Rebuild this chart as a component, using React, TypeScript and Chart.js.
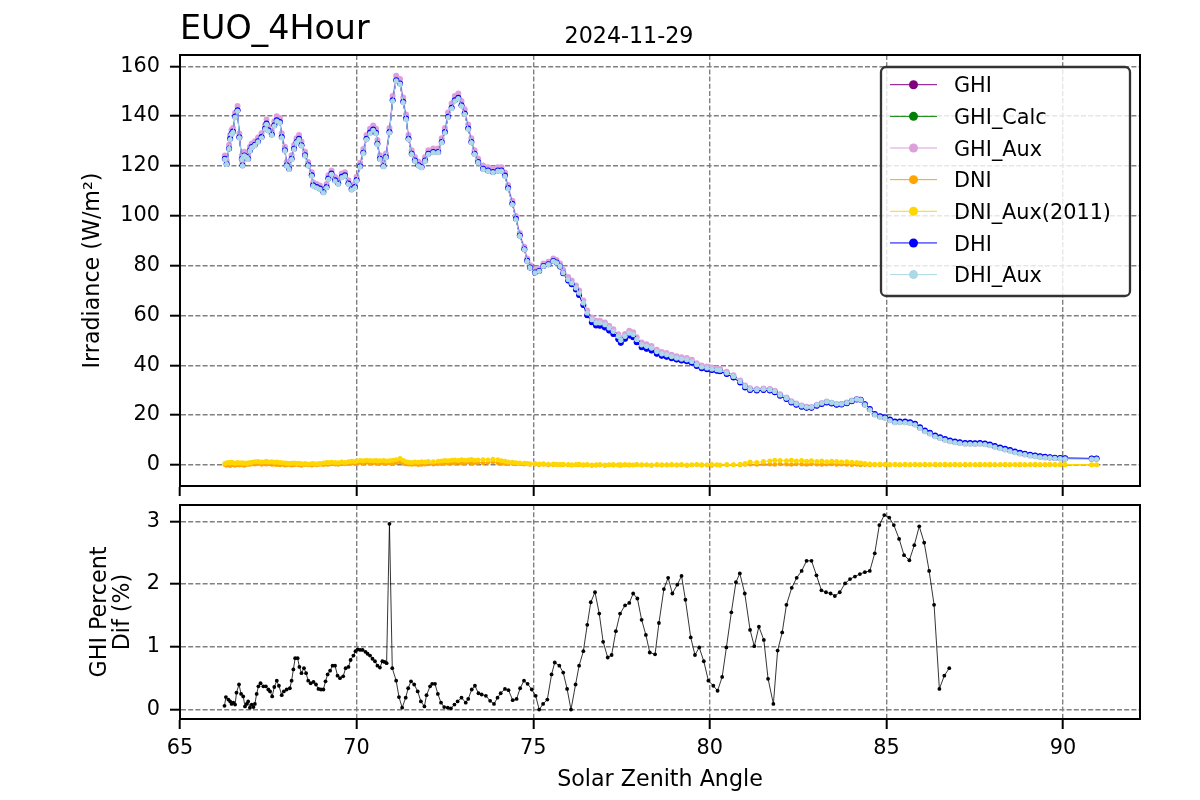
import { useEffect, useRef } from "react";
import { Chart, registerables } from "chart.js";

Chart.register(...registerables);

const FONT = "DejaVu Sans";

// ---------------- DATA ----------------
// Solar zenith angle for the irradiance series (top panel)
const zenith = [
  66.27, 66.32, 66.39, 66.42, 66.46, 66.50, 66.56, 66.63, 66.68, 66.75,
  66.77, 66.82, 66.88, 66.93, 66.98, 67.03, 67.12, 67.21, 67.31, 67.41,
  67.45, 67.50, 67.60, 67.67, 67.74, 67.83, 67.88, 67.97, 68.02, 68.09,
  68.16, 68.23, 68.30, 68.37, 68.44, 68.54, 68.63, 68.73, 68.77, 68.87,
  68.96, 69.06, 69.15, 69.20, 69.29, 69.39, 69.48, 69.58, 69.67, 69.77,
  69.86, 69.95, 70.00, 70.10, 70.19, 70.28, 70.38, 70.47, 70.55, 70.59,
  70.66, 70.76, 70.83, 70.93, 71.02, 71.12, 71.23, 71.32, 71.40, 71.47,
  71.56, 71.65, 71.75, 71.84, 71.94, 72.03, 72.17, 72.31, 72.41, 72.50,
  72.59, 72.69, 72.78, 72.88, 72.97, 73.06, 73.16, 73.25, 73.34, 73.44,
  73.58, 73.72, 73.86, 74.00, 74.10, 74.20, 74.29, 74.41, 74.51, 74.62,
  74.75, 74.83, 74.91, 75.05, 75.17, 75.29, 75.43, 75.57, 75.66, 75.76,
  75.85, 75.99, 76.09, 76.21, 76.30, 76.42, 76.53, 76.66, 76.78, 76.89,
  77.03, 77.15, 77.27, 77.41, 77.48, 77.60, 77.72, 77.83, 77.93, 78.07,
  78.21, 78.35, 78.50, 78.64, 78.78, 78.92, 79.06, 79.20, 79.35, 79.49,
  79.63, 79.77, 79.92, 80.06, 80.20, 80.29, 80.48, 80.67, 80.86, 81.00,
  81.14, 81.33, 81.52, 81.70, 81.84, 81.99, 82.17, 82.31, 82.45, 82.60,
  82.74, 82.88, 83.03, 83.17, 83.31, 83.45, 83.59, 83.73, 83.88, 84.02,
  84.16, 84.27, 84.39, 84.53, 84.67, 84.82, 84.96, 85.10, 85.24, 85.38,
  85.53, 85.67, 85.81, 85.95, 86.09, 86.23, 86.38, 86.52, 86.66, 86.80,
  86.94, 87.08, 87.23, 87.37, 87.51, 87.65, 87.79, 87.93, 88.07, 88.22,
  88.36, 88.50, 88.64, 88.78, 88.92, 89.07, 89.21, 89.35, 89.49, 89.63,
  89.77, 89.92, 90.06, 90.81, 90.95,
];

const ghi = [
  122.9, 120.8, 127.0, 130.9, 132.9, 133.8, 139.8, 142.3, 131.5, 122.8,
  120.3, 124.2, 123.7, 122.9, 126.2, 127.6, 128.5, 129.9, 131.6, 135.0,
  137.0, 134.3, 132.6, 136.3, 138.3, 137.6, 131.6, 126.3, 120.3, 118.9,
  122.9, 126.9, 129.6, 130.9, 128.3, 124.3, 120.3, 116.2, 112.2, 111.5,
  110.9, 109.5, 111.5, 114.9, 116.9, 114.2, 112.9, 115.6, 116.2, 112.9,
  110.6, 111.5, 114.3, 119.9, 125.3, 130.9, 133.4, 134.6, 133.3, 128.9,
  122.9, 120.0, 123.6, 133.6, 146.3, 154.4, 153.1, 145.7, 139.0, 130.9,
  124.9, 122.2, 120.3, 119.6, 122.2, 124.9, 125.6, 125.6, 129.6, 133.6,
  139.7, 143.3, 146.3, 147.3, 144.3, 141.0, 135.0, 129.6, 124.9, 121.6,
  118.9, 118.2, 117.6, 118.2, 118.2, 116.1, 111.1, 104.8, 98.8, 92.1,
  86.6, 81.9, 79.2, 77.2, 77.8, 79.8, 80.5, 81.8, 81.2, 79.6,
  76.9, 74.0, 72.5, 70.4, 68.2, 64.2, 60.1, 57.3, 56.0, 55.9,
  55.2, 53.9, 52.5, 50.4, 49.0, 50.6, 51.9, 51.2, 49.2, 47.2,
  46.6, 45.9, 44.6, 43.8, 43.4, 42.8, 42.3, 41.9, 41.6, 41.0,
  39.7, 38.8, 38.4, 38.1, 37.8, 37.6, 36.5, 35.1, 33.1, 31.1,
  30.1, 29.9, 30.1, 29.9, 29.2, 27.8, 26.5, 25.1, 24.2, 23.4,
  22.9, 22.9, 23.8, 24.5, 25.1, 24.7, 24.2, 24.3, 24.8, 25.6,
  26.3, 26.2, 24.4, 22.4, 20.4, 19.5, 19.1, 18.2, 17.4, 17.4,
  17.4, 17.1, 16.5, 15.1, 13.8, 12.9, 11.8, 11.1, 10.4, 9.8,
  9.4, 9.1, 8.8, 8.8, 8.7, 8.8, 8.6, 8.2, 7.6, 7.0,
  6.5, 6.0, 5.4, 4.9, 4.5, 4.1, 3.8, 3.5, 3.3, 3.1,
  2.9, 2.8, 2.7, 2.6, 2.6,
];

const ghiCalc = [
  122.9, 120.8, 127.0, 130.9, 132.9, 133.8, 139.8, 142.3, 131.5, 122.8,
  120.3, 124.2, 123.7, 122.9, 126.2, 127.6, 128.5, 129.9, 131.6, 135.0,
  137.0, 134.3, 132.6, 136.3, 138.3, 137.6, 131.6, 126.3, 120.3, 118.9,
  122.9, 126.9, 129.6, 130.9, 128.3, 124.3, 120.3, 116.2, 112.2, 111.5,
  110.9, 109.5, 111.5, 114.9, 116.9, 114.2, 112.9, 115.6, 116.2, 112.9,
  110.6, 111.5, 114.3, 119.9, 125.3, 130.9, 133.4, 134.6, 133.3, 128.9,
  122.9, 120.0, 123.6, 133.6, 146.3, 154.4, 153.1, 145.7, 139.0, 130.9,
  124.9, 122.2, 120.3, 119.6, 122.2, 124.9, 125.6, 125.6, 129.6, 133.6,
  139.7, 143.3, 146.3, 147.3, 144.3, 141.0, 135.0, 129.6, 124.9, 121.6,
  118.9, 118.2, 117.6, 118.2, 118.2, 116.1, 111.1, 104.8, 98.8, 92.1,
  86.6, 81.9, 79.2, 77.2, 77.8, 79.8, 80.5, 81.8, 81.2, 79.6,
  76.9, 74.0, 72.5, 70.4, 68.2, 64.2, 60.1, 57.3, 56.0, 55.9,
  55.2, 53.9, 52.5, 50.4, 49.0, 50.6, 51.9, 51.2, 49.2, 47.2,
  46.6, 45.9, 44.6, 43.8, 43.4, 42.8, 42.3, 41.9, 41.6, 41.0,
  39.7, 38.8, 38.4, 38.1, 37.8, 37.6, 36.5, 35.1, 33.1, 31.1,
  30.1, 29.9, 30.1, 29.9, 29.2, 27.8, 26.5, 25.1, 24.2, 23.4,
  22.9, 22.9, 23.8, 24.5, 25.1, 24.7, 24.2, 24.3, 24.8, 25.6,
  26.3, 26.2, 24.4, 22.4, 20.4, 19.5, 19.1, 18.2, 17.4, 17.4,
  17.4, 17.1, 16.5, 15.1, 13.8, 12.9, 11.8, 11.1, 10.4, 9.8,
  9.4, 9.1, 8.8, 8.8, 8.7, 8.8, 8.6, 8.2, 7.6, 7.0,
  6.5, 6.0, 5.4, 4.9, 4.5, 4.1, 3.8, 3.5, 3.3, 3.1,
  2.9, 2.8, 2.7, 2.6, 2.6,
];

const ghiAux = [
  124.2, 122.2, 128.5, 132.3, 134.4, 135.2, 141.3, 144.0, 133.0, 124.2,
  121.6, 125.7, 125.1, 124.3, 127.7, 129.0, 129.9, 131.4, 133.1, 136.5,
  138.6, 135.8, 134.1, 137.9, 139.9, 139.2, 133.1, 127.7, 121.6, 120.2,
  124.3, 128.4, 131.1, 132.4, 129.8, 125.7, 121.6, 117.5, 113.4, 112.7,
  112.1, 110.7, 112.7, 116.2, 118.2, 115.5, 114.2, 116.9, 117.5, 114.2,
  111.8, 112.8, 115.6, 121.3, 126.8, 132.4, 134.9, 136.2, 134.9, 130.4,
  124.3, 121.4, 125.0, 135.2, 148.0, 156.2, 154.9, 147.4, 140.6, 132.4,
  126.3, 123.6, 121.7, 121.0, 123.6, 126.3, 127.0, 127.0, 131.1, 135.2,
  141.4, 145.0, 148.0, 149.1, 146.0, 142.7, 136.6, 131.1, 126.3, 123.0,
  120.2, 119.5, 118.9, 119.5, 119.5, 117.4, 112.3, 106.0, 99.9, 93.1,
  87.6, 82.8, 80.2, 78.2, 78.8, 80.8, 81.5, 82.8, 82.2, 80.8,
  78.2, 75.4, 74.0, 72.0, 70.0, 66.0, 62.0, 59.2, 57.9, 57.9,
  57.2, 55.9, 54.4, 52.4, 50.9, 52.5, 53.8, 53.2, 51.2, 49.1,
  48.4, 47.7, 46.2, 45.3, 44.9, 44.2, 43.6, 43.2, 42.9, 42.2,
  40.8, 39.9, 39.5, 39.1, 38.7, 38.5, 37.4, 36.0, 33.9, 31.9,
  30.8, 30.5, 30.7, 30.5, 29.8, 28.4, 27.1, 25.6, 24.7, 23.9,
  23.4, 23.3, 24.2, 24.9, 25.5, 25.0, 24.5, 24.5, 25.1, 25.9,
  26.5, 26.2, 24.2, 22.2, 20.2, 19.3, 18.9, 17.9, 17.1, 17.1,
  17.1, 16.8, 16.2, 14.8, 13.5, 12.6, 11.5, 10.8, 10.1, 9.5,
  9.1, 8.8, 8.5, 8.5, 8.4, 8.5, 8.3, 7.9, 7.3, 6.7,
  6.2, 5.7, 5.1, 4.6, 4.2, 3.8, 3.5, 3.2, 3.0, 2.9,
  2.7, 2.6, 2.5, 2.4, 2.4,
];

const dni = [
  0.1, -0.2, 0.0, -0.3, 0.2, 0.0, -0.2, 0.1, -0.1, 0.2,
  0.0, -0.2, 0.1, 0.3, 0.2, 0.4, 0.3, 0.5, 0.2, 0.4,
  0.3, 0.5, 0.2, 0.3, 0.1, 0.0, 0.2, -0.1, 0.0, 0.1,
  -0.1, 0.0, 0.2, 0.0, -0.2, 0.1, 0.0, -0.1, 0.1, 0.0,
  0.2, 0.1, 0.3, 0.2, 0.4, 0.3, 0.2, 0.5, 0.4, 0.6,
  0.7, 0.6, 0.8, 0.9, 0.7, 1.0, 0.8, 0.9, 0.7, 0.8,
  0.6, 0.9, 0.7, 0.8, 0.5, 0.9, 1.2, 0.6, 0.4, 0.3,
  0.2, 0.3, 0.1, 0.2, 0.3, 0.4, 0.3, 0.5, 0.6, 0.7,
  0.8, 0.9, 0.7, 1.0, 0.8, 0.9, 1.1, 0.8, 0.9, 1.0,
  0.8, 1.0, 1.2, 0.9, 0.7, 0.6, 0.5, 0.6, 0.4, 0.5,
  0.3, 0.4, 0.2, 0.3, 0.1, 0.2, 0.0, 0.1, 0.2, 0.0,
  0.1, 0.0, -0.1, 0.0, 0.1, -0.1, 0.0, -0.2, -0.1, 0.0,
  -0.2, 0.0, -0.1, 0.1, -0.2, 0.0, -0.1, 0.0, 0.1, -0.1,
  0.0, -0.2, 0.0, -0.1, 0.1, 0.0, -0.1, 0.0, -0.2, 0.0,
  0.1, -0.1, 0.0, -0.2, 0.0, -0.1, 0.0, 0.1, 0.0, 0.2,
  0.3, 0.2, 0.4, 0.3, 0.2, 0.4, 0.3, 0.2, 0.4, 0.3,
  0.2, 0.4, 0.3, 0.2, 0.3, 0.4, 0.2, 0.3, 0.2, 0.1,
  0.2, 0.0, 0.1, 0.0, 0.1, 0.0, 0.1, 0.0, 0.1, 0.0,
  0.1, 0.0, 0.1, 0.0, 0.0, 0.1, 0.0, 0.1, 0.0, 0.0,
  0.1, 0.0, 0.0, 0.1, 0.0, 0.0, 0.1, 0.0, 0.0, 0.1,
  0.0, 0.0, 0.1, 0.0, 0.0, 0.1, 0.0, 0.0, 0.0, 0.1,
  0.0, 0.0, 0.0, 0.0, 0.0,
];

const dniAux = [
  0.6, 0.9, 1.0, 0.8, 1.1, 0.9, 0.7, 1.0, 0.8, 0.9,
  0.7, 0.8, 0.6, 0.9, 0.8, 1.1, 1.3, 1.4, 1.2, 1.3,
  1.4, 1.2, 1.3, 1.1, 1.2, 1.0, 0.9, 0.8, 0.7, 0.6,
  0.7, 0.8, 0.6, 0.7, 0.5, 0.6, 0.4, 0.5, 0.6, 0.5,
  0.6, 0.8, 1.0, 0.9, 1.1, 1.0, 0.9, 1.2, 1.0, 1.3,
  1.5, 1.4, 1.6, 1.8, 1.7, 1.9, 1.8, 1.7, 1.8, 1.6,
  1.7, 1.8, 1.6, 1.7, 1.9, 2.1, 2.6, 1.8, 1.3, 1.1,
  1.0, 1.2, 1.1, 1.3, 1.2, 1.4, 1.3, 1.5, 1.6, 1.8,
  1.7, 1.9, 2.0, 1.8, 2.1, 1.9, 2.0, 2.2, 1.9, 2.0,
  2.1, 2.0, 2.3, 2.1, 1.7, 1.5, 1.2, 1.1, 0.9, 0.8,
  0.7, 0.6, 0.5, 0.6, 0.4, 0.5, 0.3, 0.4, 0.3, 0.2,
  0.3, 0.2, 0.1, 0.2, 0.3, 0.1, 0.2, 0.0, 0.1, 0.2,
  0.0, 0.1, 0.2, 0.0, 0.1, 0.2, 0.1, 0.0, 0.2, 0.1,
  0.1, 0.0, 0.2, 0.1, 0.0, 0.2, 0.1, 0.2, 0.0, 0.1,
  0.2, 0.1, 0.0, 0.2, 0.1, 0.0, 0.2, 0.1, 0.3, 0.6,
  1.2, 1.0, 1.4, 1.6, 1.9, 1.8, 1.7, 1.9, 1.6, 1.8,
  1.5, 1.7, 1.4, 1.6, 1.3, 1.5, 1.4, 1.2, 1.3, 1.1,
  1.0, 0.8, 0.6, 0.4, 0.3, 0.4, 0.3, 0.2, 0.3, 0.2,
  0.3, 0.2, 0.3, 0.2, 0.3, 0.2, 0.3, 0.2, 0.3, 0.2,
  0.3, 0.2, 0.3, 0.2, 0.2, 0.3, 0.2, 0.3, 0.2, 0.2,
  0.3, 0.2, 0.2, 0.3, 0.2, 0.2, 0.3, 0.2, 0.2, 0.3,
  0.2, 0.2, 0.2, 0.1, 0.1,
];

const dhi = [
  122.9, 120.8, 127.0, 130.9, 132.9, 133.8, 139.8, 142.3, 131.5, 122.8,
  120.3, 124.2, 123.7, 122.9, 126.2, 127.6, 128.5, 129.9, 131.6, 135.0,
  137.0, 134.3, 132.6, 136.3, 138.3, 137.6, 131.6, 126.3, 120.3, 118.9,
  122.9, 126.9, 129.6, 130.9, 128.3, 124.3, 120.3, 116.2, 112.2, 111.5,
  110.9, 109.5, 111.5, 114.9, 116.9, 114.2, 112.9, 115.6, 116.2, 112.9,
  110.6, 111.5, 114.3, 119.9, 125.3, 130.9, 133.4, 134.6, 133.3, 128.9,
  122.9, 120.0, 123.6, 133.6, 146.3, 154.4, 153.1, 145.7, 139.0, 130.9,
  124.9, 122.2, 120.3, 119.6, 122.2, 124.9, 125.6, 125.6, 129.6, 133.6,
  139.7, 143.3, 146.3, 147.3, 144.3, 141.0, 135.0, 129.6, 124.9, 121.6,
  118.9, 118.2, 117.6, 118.2, 118.2, 116.1, 111.1, 104.8, 98.8, 92.1,
  86.6, 81.9, 79.2, 77.2, 77.8, 79.8, 80.5, 81.8, 81.2, 79.6,
  76.9, 74.0, 72.5, 70.4, 68.2, 64.2, 60.1, 57.3, 56.0, 55.9,
  55.2, 53.9, 52.5, 50.4, 49.0, 50.6, 51.9, 51.2, 49.2, 47.2,
  46.6, 45.9, 44.6, 43.8, 43.4, 42.8, 42.3, 41.9, 41.6, 41.0,
  39.7, 38.8, 38.4, 38.1, 37.8, 37.6, 36.5, 35.1, 33.1, 31.1,
  30.1, 29.9, 30.1, 29.9, 29.2, 27.8, 26.5, 25.1, 24.2, 23.4,
  22.9, 22.9, 23.8, 24.5, 25.1, 24.7, 24.2, 24.3, 24.8, 25.6,
  26.3, 26.2, 24.4, 22.4, 20.4, 19.5, 19.1, 18.2, 17.4, 17.4,
  17.4, 17.1, 16.5, 15.1, 13.8, 12.9, 11.8, 11.1, 10.4, 9.8,
  9.4, 9.1, 8.8, 8.8, 8.7, 8.8, 8.6, 8.2, 7.6, 7.0,
  6.5, 6.0, 5.4, 4.9, 4.5, 4.1, 3.8, 3.5, 3.3, 3.1,
  2.9, 2.8, 2.7, 2.6, 2.6,
];

const dhiAux = [
  122.6, 120.6, 126.9, 130.6, 132.7, 133.5, 139.5, 142.0, 131.3, 122.6,
  120.0, 124.0, 123.4, 122.6, 126.0, 127.3, 128.2, 129.6, 131.3, 134.7,
  136.7, 134.0, 132.3, 136.0, 138.0, 137.3, 131.3, 126.0, 120.0, 118.6,
  122.6, 126.6, 129.3, 130.6, 128.0, 124.0, 120.0, 115.9, 111.9, 111.2,
  110.6, 109.2, 111.2, 114.6, 116.6, 113.9, 112.6, 115.3, 115.9, 112.6,
  110.3, 111.2, 114.0, 119.6, 125.0, 130.6, 133.0, 134.3, 133.0, 128.6,
  122.6, 119.7, 123.3, 133.3, 146.0, 154.1, 152.8, 145.4, 138.7, 130.6,
  124.6, 121.9, 120.0, 119.3, 121.9, 124.6, 125.3, 125.3, 129.3, 133.3,
  139.4, 143.0, 146.0, 147.0, 144.0, 140.7, 134.7, 129.3, 124.6, 121.3,
  118.6, 117.9, 117.3, 117.9, 117.9, 115.8, 110.8, 104.5, 98.5, 91.8,
  86.4, 81.7, 79.1, 77.1, 77.7, 79.7, 80.4, 81.7, 81.1, 79.7,
  77.1, 74.4, 73.0, 71.0, 69.0, 65.0, 61.0, 58.3, 57.0, 57.0,
  56.3, 55.0, 53.6, 51.6, 50.0, 51.6, 52.9, 52.3, 50.3, 48.2,
  47.6, 46.9, 45.5, 44.6, 44.2, 43.5, 42.9, 42.5, 42.2, 41.5,
  40.2, 39.3, 38.9, 38.5, 38.2, 38.0, 36.9, 35.5, 33.5, 31.5,
  30.4, 30.2, 30.4, 30.2, 29.5, 28.1, 26.8, 25.4, 24.5, 23.7,
  23.2, 23.2, 24.1, 24.8, 25.4, 25.0, 24.5, 24.5, 25.0, 25.8,
  26.4, 26.1, 24.1, 22.1, 20.1, 19.2, 18.8, 17.8, 17.0, 17.0,
  17.0, 16.7, 16.1, 14.7, 13.4, 12.5, 11.4, 10.7, 10.0, 9.4,
  9.0, 8.7, 8.4, 8.4, 8.3, 8.4, 8.2, 7.8, 7.2, 6.6,
  6.1, 5.6, 5.0, 4.5, 4.1, 3.7, 3.4, 3.1, 2.9, 2.8,
  2.6, 2.5, 2.4, 2.3, 2.3,
];

// Bottom panel: GHI percent difference
const difZenith = [
  66.26, 66.30, 66.37, 66.42, 66.46, 66.51, 66.56, 66.60, 66.67, 66.73,
  66.79, 66.84, 66.89, 66.93, 66.98, 67.03, 67.08, 67.12, 67.17, 67.22,
  67.28, 67.36, 67.43, 67.50, 67.55, 67.61, 67.67, 67.74, 67.80, 67.88,
  67.94, 68.02, 68.11, 68.16, 68.21, 68.26, 68.33, 68.38, 68.44, 68.51,
  68.57, 68.63, 68.70, 68.78, 68.85, 68.92, 68.99, 69.06, 69.12, 69.18,
  69.25, 69.32, 69.39, 69.46, 69.53, 69.62, 69.69, 69.77, 69.83, 69.91,
  69.97, 70.03, 70.10, 70.17, 70.25, 70.31, 70.38, 70.45, 70.52, 70.59,
  70.66, 70.73, 70.79, 70.85, 70.93, 71.01, 71.12, 71.20, 71.29, 71.39,
  71.46, 71.54, 71.63, 71.73, 71.82, 71.92, 71.98, 72.08, 72.14, 72.22,
  72.30, 72.39, 72.48, 72.58, 72.67, 72.77, 72.86, 72.97, 73.09, 73.16,
  73.26, 73.35, 73.45, 73.54, 73.66, 73.78, 73.89, 73.99, 74.08, 74.20,
  74.30, 74.42, 74.53, 74.63, 74.74, 74.84, 74.96, 75.07, 75.17, 75.28,
  75.40, 75.52, 75.61, 75.74, 75.85, 75.96, 76.07, 76.20, 76.30, 76.42,
  76.53, 76.63, 76.75, 76.87, 76.98, 77.11, 77.22, 77.34, 77.46, 77.60,
  77.72, 77.83, 77.95, 78.07, 78.19, 78.30, 78.45, 78.56, 78.70, 78.82,
  78.94, 79.08, 79.20, 79.31, 79.46, 79.58, 79.70, 79.83, 79.96, 80.10,
  80.22, 80.35, 80.47, 80.61, 80.74, 80.85, 80.99, 81.14, 81.26, 81.39,
  81.53, 81.65, 81.80, 81.92, 82.05, 82.17, 82.32, 82.46, 82.60, 82.74,
  82.88, 83.02, 83.16, 83.29, 83.42, 83.54, 83.68, 83.83, 83.97, 84.11,
  84.25, 84.39, 84.53, 84.67, 84.80, 84.94, 85.08, 85.21, 85.36, 85.50,
  85.65, 85.79, 85.93, 86.07, 86.21, 86.35, 86.50, 86.64, 86.78,
];

const ghiPercentDif = [
  0.06, 0.20, 0.16, 0.13, 0.09, 0.11, 0.08, 0.27, 0.40, 0.25,
  0.21, 0.05, 0.09, 0.13, 0.03, 0.08, 0.04, 0.09, 0.25, 0.37,
  0.42, 0.37, 0.37, 0.32, 0.29, 0.21, 0.36, 0.46, 0.38, 0.23,
  0.29, 0.32, 0.34, 0.46, 0.64, 0.82, 0.82, 0.68, 0.58, 0.66,
  0.58, 0.46, 0.42, 0.44, 0.40, 0.33, 0.32, 0.32, 0.45, 0.56,
  0.62, 0.70, 0.70, 0.54, 0.50, 0.53, 0.66, 0.68, 0.79, 0.86,
  0.93, 0.96, 0.95, 0.95, 0.92, 0.89, 0.86, 0.81, 0.77, 0.70,
  0.67, 0.77, 0.76, 0.74, 2.96, 0.66, 0.46, 0.20, 0.03, 0.19,
  0.34, 0.45, 0.40, 0.29, 0.13, 0.05, 0.23, 0.37, 0.41, 0.41,
  0.25, 0.11, 0.04, 0.03, 0.02, 0.08, 0.13, 0.19, 0.11, 0.17,
  0.32, 0.38, 0.26, 0.24, 0.22, 0.14, 0.09, 0.19, 0.26, 0.33,
  0.31, 0.15, 0.17, 0.34, 0.46, 0.41, 0.32, 0.22, 0.00, 0.09,
  0.16, 0.56, 0.75, 0.70, 0.59, 0.33, 0.00, 0.40, 0.70, 0.93,
  1.35, 1.71, 1.87, 1.53, 1.08, 0.83, 0.87, 1.25, 1.53, 1.66,
  1.70, 1.85, 1.77, 1.43, 1.19, 0.91, 0.88, 1.38, 1.92, 2.10,
  1.85, 1.99, 2.13, 1.75, 1.15, 0.87, 0.99, 0.77, 0.46, 0.38,
  0.30, 0.52, 0.99, 1.55, 2.03, 2.17, 1.85, 1.27, 1.01, 1.32,
  1.11, 0.49, 0.09, 0.94, 1.23, 1.67, 1.94, 2.10, 2.21, 2.37,
  2.37, 2.14, 1.90, 1.87, 1.85, 1.81, 1.87, 2.01, 2.08, 2.12,
  2.16, 2.19, 2.21, 2.49, 2.94, 3.10, 3.06, 2.94, 2.72, 2.46,
  2.38, 2.62, 2.92, 2.66, 2.21, 1.67, 0.33, 0.54, 0.66,
];

const xTickValues = [65, 70, 75, 80, 85, 90];
const topYTickValues = [0, 20, 40, 60, 80, 100, 120, 140, 160];
const botYTickValues = [0, 1, 2, 3];

const seriesNames = ["GHI", "GHI_Calc", "GHI_Aux", "DNI", "DNI_Aux(2011)", "DHI", "DHI_Aux"];
const chartTitle = "EUO_4Hour";
const chartDate = "2024-11-29";

// ---------------- STYLE ----------------
const seriesColors = ["#800080", "#008000", "#dda0dd", "#ffa500", "#ffd700", "#0000ff", "#add8e6"];
const seriesRadius = [2.6, 2.4, 3.0, 2.3, 2.5, 3.0, 2.6];

function pts(xs: number[], ys: number[]) {
  return xs.map((x, i) => ({ x, y: ys[i] }));
}

const gridCommon: any = {
  color: "#808080",
  lineWidth: 1.4,
  drawTicks: true,
  tickLength: 10,
  tickWidth: 2,
  tickColor: "#000",
  tickBorderDash: [],
};
const borderCommon: any = { display: true, color: "#000", width: 2, dash: [5, 2.2] };
const tickFont = { family: FONT, size: 20.8 };

function fixY(width: number) {
  return (s: any) => {
    s.width = width;
    s.paddingTop = 0;
    s.paddingBottom = 0;
  };
}
function fixX(height: number) {
  return (s: any) => {
    s.height = height;
    s.paddingLeft = 0;
    s.paddingRight = 0;
  };
}

const framePlugin = {
  id: "frame",
  afterDatasetsDraw(chart: any) {
    const { ctx, chartArea: a } = chart;
    ctx.save();
    ctx.strokeStyle = "#000";
    ctx.lineWidth = 2;
    ctx.strokeRect(a.left, a.top, a.right - a.left, a.bottom - a.top);
    ctx.restore();
  },
};

const topDecorPlugin = {
  id: "topDecor",
  afterDraw(chart: any) {
    const ctx = chart.ctx;
    ctx.save();
    ctx.fillStyle = "#000";
    ctx.textBaseline = "alphabetic";
    ctx.textAlign = "left";
    ctx.font = `33.3px "${FONT}"`;
    ctx.fillText(chartTitle, 180, 39);
    ctx.textAlign = "center";
    ctx.font = `22.2px "${FONT}"`;
    ctx.fillText(chartDate, 629, 43);

    // legend
    const bx = 881, by = 67, bw = 249, bh = 229, r = 5;
    ctx.beginPath();
    ctx.moveTo(bx + r, by);
    ctx.lineTo(bx + bw - r, by);
    ctx.arcTo(bx + bw, by, bx + bw, by + r, r);
    ctx.lineTo(bx + bw, by + bh - r);
    ctx.arcTo(bx + bw, by + bh, bx + bw - r, by + bh, r);
    ctx.lineTo(bx + r, by + bh);
    ctx.arcTo(bx, by + bh, bx, by + bh - r, r);
    ctx.lineTo(bx, by + r);
    ctx.arcTo(bx, by, bx + r, by, r);
    ctx.closePath();
    ctx.fillStyle = "rgba(255,255,255,0.8)";
    ctx.fill();
    ctx.strokeStyle = "#333";
    ctx.lineWidth = 2.3;
    ctx.stroke();

    ctx.font = `20.8px "${FONT}"`;
    ctx.textAlign = "left";
    seriesNames.forEach((name, i) => {
      const y = 84.7 + i * 31.65;
      ctx.strokeStyle = seriesColors[i];
      ctx.lineWidth = 1;
      ctx.beginPath();
      ctx.moveTo(890, y);
      ctx.lineTo(937, y);
      ctx.stroke();
      ctx.fillStyle = seriesColors[i];
      ctx.beginPath();
      ctx.arc(913.5, y, 4.5, 0, Math.PI * 2);
      ctx.fill();
      ctx.fillStyle = "#000";
      ctx.fillText(name, 954, y + 7.6);
    });
    ctx.restore();
  },
};

function makeTopConfig(): any {
  const series = [ghi, ghiCalc, ghiAux, dni, dniAux, dhi, dhiAux];
  const datasets = series.map((vals, i) => ({
    label: seriesNames[i],
    data: pts(zenith, vals),
    showLine: true,
    borderColor: seriesColors[i],
    borderWidth: 1,
    pointRadius: seriesRadius[i],
    pointBackgroundColor: seriesColors[i],
    pointBorderWidth: 0,
    pointHoverRadius: seriesRadius[i],
    order: series.length - i,
    tension: 0,
  }));
  return {
    type: "scatter",
    data: { datasets },
    plugins: [framePlugin, topDecorPlugin],
    options: {
      responsive: false,
      animation: false,
      events: [],
      layout: { padding: { left: 80, right: 60, top: 55, bottom: 0 } },
      plugins: { legend: { display: false }, tooltip: { enabled: false }, title: { display: false } },
      scales: {
        x: {
          type: "linear",
          min: 65,
          max: 92.18,
          afterBuildTicks: (s: any) => { s.ticks = xTickValues.map((v) => ({ value: v })); },
          afterFit: fixX(14),
          ticks: { display: false },
          grid: gridCommon,
          border: borderCommon,
        },
        y: {
          type: "linear",
          min: -8.45,
          max: 164.5,
          afterBuildTicks: (s: any) => { s.ticks = topYTickValues.map((v) => ({ value: v })); },
          afterFit: fixY(100),
          ticks: { font: tickFont, color: "#000", padding: 10 },
          grid: gridCommon,
          border: borderCommon,
          title: {
            display: true,
            text: "Irradiance (W/m²)",
            color: "#000",
            font: { family: FONT, size: 22.2 },
            padding: 0,
          },
        },
      },
    },
  };
}

function makeBottomConfig(): any {
  return {
    type: "scatter",
    data: {
      datasets: [
        {
          label: "GHI Percent Dif",
          data: pts(difZenith, ghiPercentDif),
          showLine: true,
          borderColor: "#000",
          borderWidth: 0.8,
          pointRadius: 1.9,
          pointBackgroundColor: "#000",
          pointBorderWidth: 0,
          tension: 0,
        },
      ],
    },
    plugins: [framePlugin],
    options: {
      responsive: false,
      animation: false,
      events: [],
      layout: { padding: { left: 88.5, right: 60, top: 5, bottom: 0 } },
      plugins: { legend: { display: false }, tooltip: { enabled: false }, title: { display: false } },
      scales: {
        x: {
          type: "linear",
          min: 65,
          max: 92.18,
          afterBuildTicks: (s: any) => { s.ticks = xTickValues.map((v) => ({ value: v })); },
          afterFit: fixX(81),
          ticks: { font: tickFont, color: "#000", padding: 7.5, maxRotation: 0 },
          grid: gridCommon,
          border: borderCommon,
          title: {
            display: true,
            text: "Solar Zenith Angle",
            color: "#000",
            font: { family: FONT, size: 22.2 },
            padding: { top: 0, bottom: 6.8 },
          },
        },
        y: {
          type: "linear",
          min: -0.15,
          max: 3.26,
          afterBuildTicks: (s: any) => { s.ticks = botYTickValues.map((v) => ({ value: v })); },
          afterFit: fixY(91.5),
          ticks: { font: tickFont, color: "#000", padding: 10 },
          grid: gridCommon,
          border: borderCommon,
          title: {
            display: true,
            text: ["GHI Percent", "Dif (%)"],
            color: "#000",
            font: { family: FONT, size: 22.2, lineHeight: 1.04 },
            padding: 0,
          },
        },
      },
    },
  };
}

export default function App() {
  const topRef = useRef<HTMLCanvasElement>(null);
  const botRef = useRef<HTMLCanvasElement>(null);

  useEffect(() => {
    Chart.defaults.font.family = FONT;
    Chart.defaults.color = "#000";
    const top = new Chart(topRef.current as HTMLCanvasElement, makeTopConfig());
    const bot = new Chart(botRef.current as HTMLCanvasElement, makeBottomConfig());
    return () => {
      top.destroy();
      bot.destroy();
    };
  }, []);

  return (
    <div style={{ position: "absolute", left: 0, top: 0, width: 1200, height: 800, background: "#fff" }}>
      <div style={{ position: "absolute", left: 0, top: 0, width: 1200, height: 500 }}>
        <canvas ref={topRef} width={1200} height={500} style={{ display: "block" }} />
      </div>
      <div style={{ position: "absolute", left: 0, top: 500, width: 1200, height: 300 }}>
        <canvas ref={botRef} width={1200} height={300} style={{ display: "block" }} />
      </div>
    </div>
  );
}
